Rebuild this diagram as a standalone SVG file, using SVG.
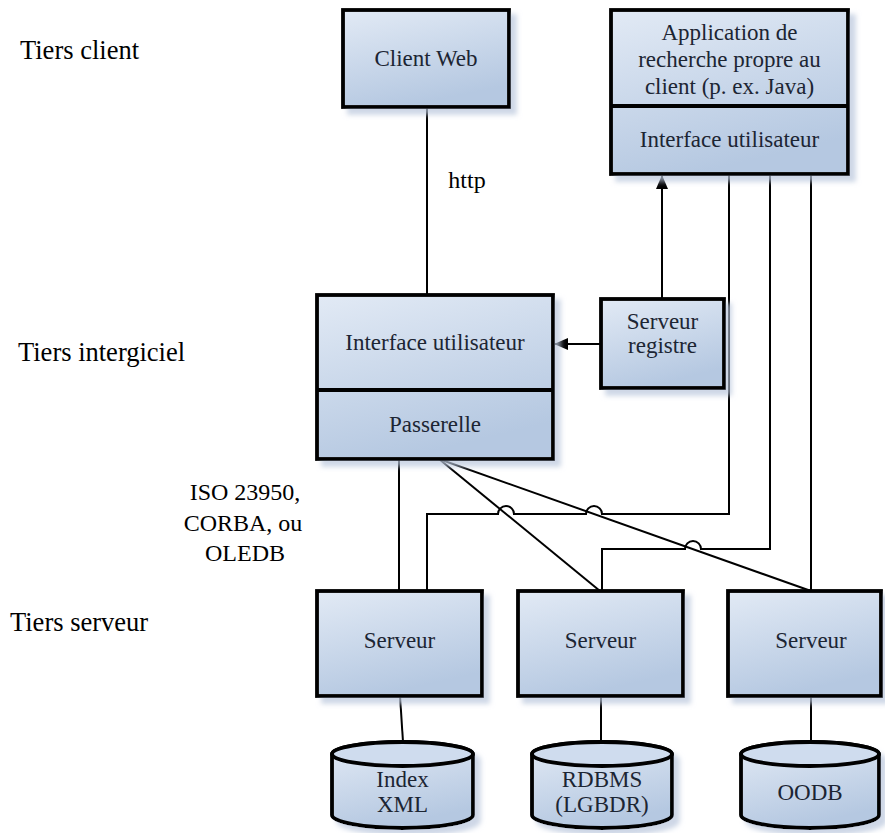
<svg xmlns="http://www.w3.org/2000/svg" width="885" height="833" viewBox="0 0 885 833">
<defs>
<linearGradient id="g" x1="0" y1="0" x2="0.35" y2="1">
<stop offset="0" stop-color="#e2eaf5"/>
<stop offset="1" stop-color="#b5c8e1"/>
</linearGradient>
<filter id="sh" x="-10%" y="-10%" width="130%" height="130%">
<feGaussianBlur in="SourceAlpha" stdDeviation="2.5"/>
<feOffset dx="6" dy="6" result="b"/>
<feFlood flood-color="#b9c6dc" flood-opacity="0.7"/>
<feComposite in2="b" operator="in"/>
<feMerge><feMergeNode/><feMergeNode in="SourceGraphic"/></feMerge>
</filter>
<marker id="ah" viewBox="0 0 14 12" refX="13" refY="6" markerWidth="14" markerHeight="12" orient="auto" markerUnits="userSpaceOnUse">
<path d="M0,0 L14,6 L0,12 z" fill="#000"/>
</marker>
<style>
.box{fill:url(#g);stroke:#000;stroke-width:3.8;filter:url(#sh)}
.div{stroke:#000;stroke-width:3.8;fill:none}
text{font-family:'Liberation Serif','DejaVu Serif',serif}
.t{font-size:23px;fill:#1c2533;text-anchor:middle}
.lab{font-size:26.5px;fill:#000}
.lab2{font-size:24px;fill:#000;text-anchor:middle}
.c{fill:none;stroke:#000;stroke-width:2}
.cyl{fill:url(#g);stroke:#000;stroke-width:3.8;filter:url(#sh)}
.cyltop{fill:#cfdcee;stroke:#000;stroke-width:3.8}
</style>
</defs>
<rect width="885" height="833" fill="#fff"/>

<g id="labels">
<text class="lab" x="20" y="59">Tiers client</text>
<text class="lab" x="18" y="361">Tiers intergiciel</text>
<text class="lab" x="10" y="631">Tiers serveur</text>
<text class="lab2" x="245" y="500">ISO 23950,</text>
<text class="lab2" x="243" y="531">CORBA, ou</text>
<text class="lab2" x="245" y="561">OLEDB</text>
<text class="lab2" x="467" y="188" font-size="23">http</text>
</g>

<g id="connectors">
<path class="c" d="M427,107 V295"/>
<path class="c" d="M601,344 H555" marker-end="url(#ah)"/>
<path class="c" d="M662,299 V176" marker-end="url(#ah)"/>
<path class="c" d="M399,459 V591"/>
<path class="c" d="M439,459 L600,591"/>
<path class="c" d="M439,459 L811,591"/>
<path class="c" d="M729,174 V514 H602 A8,8 0 0 0 586,514 H514 A8,8 0 0 0 498,514 H427 V591"/>
<path class="c" d="M770,174 V549 H701 A8,8 0 0 0 685,549 H602 V591"/>
<path class="c" d="M811,174 V591"/>
<path class="c" d="M400,696 L403,742"/>
<path class="c" d="M601,696 V742"/>
<path class="c" d="M811,696 V742"/>
</g>

<g id="client-web">
<rect class="box" x="343" y="10" width="166" height="97"/>
<text class="t" x="426" y="66">Client Web</text>
</g>

<g id="app-client">
<rect class="box" x="611" y="10" width="237" height="164"/>
<line class="div" x1="611" y1="106" x2="848" y2="106"/>
<text class="t" x="729.5" y="40">Application de</text>
<text class="t" x="729.5" y="67">recherche propre au</text>
<text class="t" x="729.5" y="94">client (p. ex. Java)</text>
<text class="t" x="729.5" y="147">Interface utilisateur</text>
</g>

<g id="middleware">
<rect class="box" x="317" y="295" width="236" height="164"/>
<line class="div" x1="317" y1="390" x2="553" y2="390"/>
<text class="t" x="435" y="350">Interface utilisateur</text>
<text class="t" x="435" y="432">Passerelle</text>
</g>

<g id="registre">
<rect class="box" x="601" y="299" width="123" height="89"/>
<text class="t" x="662.5" y="329">Serveur</text>
<text class="t" x="662.5" y="353">registre</text>
</g>

<g id="serveur1">
<rect class="box" x="317" y="591" width="165" height="105"/>
<text class="t" x="399.5" y="648">Serveur</text>
</g>
<g id="serveur2">
<rect class="box" x="518" y="591" width="165" height="105"/>
<text class="t" x="600.5" y="648">Serveur</text>
</g>
<g id="serveur3">
<rect class="box" x="728" y="591" width="153" height="105"/>
<text class="t" x="811" y="648">Serveur</text>
</g>

<g id="index-xml">
<path class="cyl" d="M332,754 A70.5,12 0 0 1 473,754 V815 A70.5,13 0 0 1 332,815 Z"/>
<ellipse class="cyltop" cx="402.5" cy="754" rx="70.5" ry="12"/>
<text class="t" x="402.5" y="787">Index</text>
<text class="t" x="402.5" y="812">XML</text>
</g>
<g id="rdbms">
<path class="cyl" d="M532,754 A70,12 0 0 1 672,754 V815 A70,13 0 0 1 532,815 Z"/>
<ellipse class="cyltop" cx="602" cy="754" rx="70" ry="12"/>
<text class="t" x="602" y="787">RDBMS</text>
<text class="t" x="602" y="812">(LGBDR)</text>
</g>
<g id="oodb">
<path class="cyl" d="M741,754 A69,12 0 0 1 879,754 V815 A69,13 0 0 1 741,815 Z"/>
<ellipse class="cyltop" cx="810" cy="754" rx="69" ry="12"/>
<text class="t" x="810" y="800">OODB</text>
</g>
</svg>
